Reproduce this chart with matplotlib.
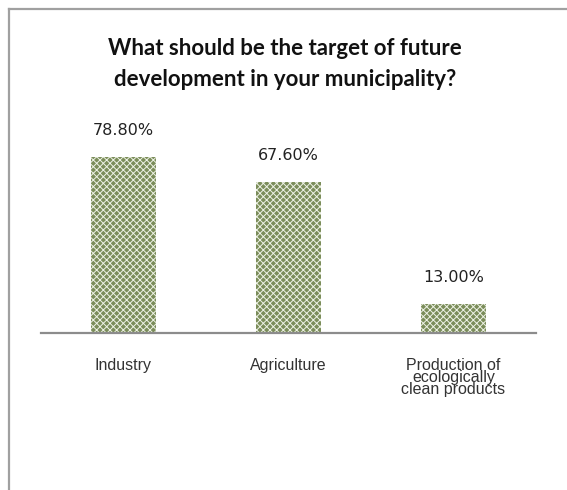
import matplotlib
matplotlib.use("Agg")
import matplotlib.pyplot as plt
from matplotlib.lines import Line2D

categories = ["Industry", "Agriculture", "Production of\necologically\nclean products"]
values = [78.8, 67.6, 13.0]
value_labels = ["78.80%", "67.60%", "13.00%"]
title = "What should be the target of future\ndevelopment in your municipality?"

W, H = 567, 490
fig = plt.figure(figsize=(W / 100, H / 100), dpi=100)
fig.patch.set_facecolor("white")

# plot area in pixel coordinates (left, baseline, right, top for 100 %)
left_px, right_px = 41, 536
base_px, top_px = 333, 333 - 223
ax = fig.add_axes([left_px / W, 1 - base_px / H, (right_px - left_px) / W, (base_px - top_px) / H])
ax.set_xlim(-0.5, len(categories) - 0.5)
ax.set_ylim(0, 100)
ax.axis("off")

plt.rcParams["hatch.linewidth"] = 0.7
x = list(range(len(categories)))
ax.bar(x, values, width=0.39, color="#7b8d5a", edgecolor="#eef2e6", hatch="xxxxx",
       linewidth=0, zorder=2)

# baseline
ax.plot([-0.5, len(categories) - 0.5], [0, 0], color="#8c8c8c", lw=1.6, clip_on=False, zorder=3)

for xi, v, lab in zip(x, values, value_labels):
    ax.annotate(lab, (xi, v), xytext=(0, 27), textcoords="offset pixels",
                ha="center", va="center", fontsize=11.5, family="DejaVu Sans", color="#222222")

for xi, cat in zip(x, categories):
    ax.annotate(cat, (xi, 0), xytext=(0, -25), textcoords="offset pixels",
                ha="center", va="top", fontsize=11.5, family="Liberation Sans",
                color="#333333", linespacing=0.75)

fig.text(285 / W, 1 - 64 / H, title, ha="center", va="center", fontsize=16,
         fontweight="bold", family="Lato", color="#111111", linespacing=1.55)

# chart frame (top and left edges)
fig.add_artist(Line2D([9 / W, 1], [1 - 9 / H, 1 - 9 / H], color="#a0a0a0", lw=1.6))
fig.add_artist(Line2D([9 / W, 9 / W], [0, 1 - 9 / H], color="#a0a0a0", lw=1.6))

fig.savefig("out.png", dpi=100)
